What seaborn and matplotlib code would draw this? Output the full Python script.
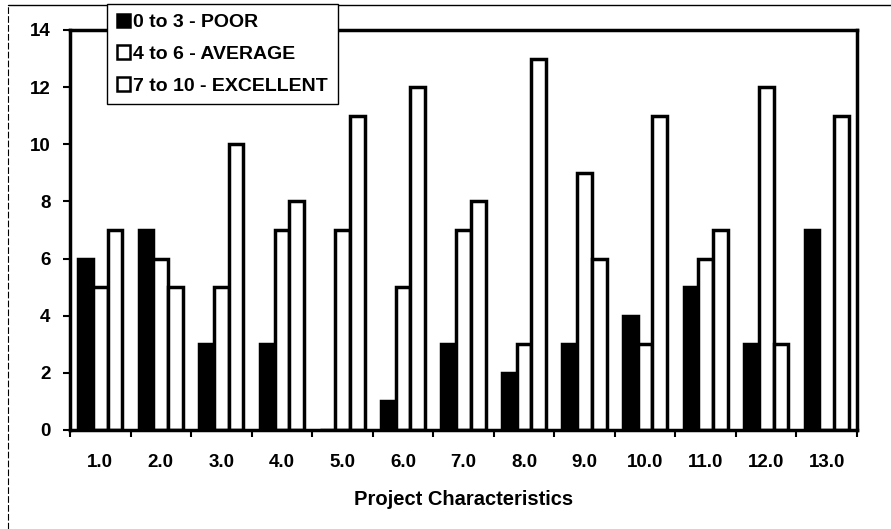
import matplotlib
matplotlib.use("Agg")
import matplotlib.pyplot as plt
import seaborn as sns
import pandas as pd
from matplotlib.patches import Patch
from matplotlib.lines import Line2D
from matplotlib.ticker import FixedLocator

# Ratings count per project characteristic
characteristics = ["1.0", "2.0", "3.0", "4.0", "5.0", "6.0", "7.0",
                   "8.0", "9.0", "10.0", "11.0", "12.0", "13.0"]
poor = [6, 7, 3, 3, 0, 1, 3, 2, 3, 4, 5, 3, 7]
average = [5, 6, 5, 7, 7, 5, 7, 3, 9, 3, 6, 12, 0]
excellent = [7, 5, 10, 8, 11, 12, 8, 13, 6, 11, 7, 3, 11]
series_labels = ["0 to 3 - POOR", "4 to 6 - AVERAGE", "7 to 10 - EXCELLENT"]
y_ticks = [0, 2, 4, 6, 8, 10, 12, 14]

df = pd.DataFrame({
    "Characteristic": characteristics * 3,
    "Rating": [series_labels[0]] * len(poor)
              + [series_labels[1]] * len(average)
              + [series_labels[2]] * len(excellent),
    "Count": poor + average + excellent,
})

sns.set_style("white")
plt.rcParams["font.family"] = ["Liberation Sans", "DejaVu Sans"]
plt.rcParams["font.weight"] = "bold"
plt.rcParams["text.color"] = "black"
plt.rcParams["axes.labelcolor"] = "black"
plt.rcParams["xtick.color"] = "black"
plt.rcParams["ytick.color"] = "black"

fig = plt.figure(figsize=(8.91, 5.29), dpi=100)
ax = fig.add_axes([70 / 891, 1 - 430 / 529, 787 / 891, 400 / 529])

palette = {series_labels[0]: "black", series_labels[1]: "white", series_labels[2]: "white"}
sns.barplot(data=df, x="Characteristic", y="Count", hue="Rating",
            order=characteristics, hue_order=series_labels, palette=palette,
            edgecolor="black", linewidth=2.5, width=0.73, saturation=1,
            legend=False, ax=ax)

ax.set_ylim(0, 14)
ax.set_yticks(y_ticks)
ax.set_xlim(-0.5, len(characteristics) - 0.5)
ax.set_ylabel("")
ax.set_xlabel("Project Characteristics", fontsize=14.5, fontweight="bold",
              color="black", labelpad=14)

for s in ax.spines.values():
    s.set_visible(True)
    s.set_color("black")
    s.set_linewidth(2.5)

# Category separators as outward ticks, labels centred between them
ax.xaxis.set_minor_locator(FixedLocator([i - 0.5 for i in range(len(characteristics) + 1)]))
ax.tick_params(axis="x", which="major", length=0, pad=17, labelsize=13.5, labelcolor="black")
ax.tick_params(axis="x", which="minor", length=5, width=1.5, direction="out", bottom=True,
               color="black")
ax.tick_params(axis="y", which="major", length=5, width=1.5, direction="out", left=True,
               pad=9, labelsize=13.5, color="black", labelcolor="black")
for lab in ax.get_xticklabels() + ax.get_yticklabels():
    lab.set_fontweight("bold")

handles = [Patch(facecolor="black", edgecolor="black", linewidth=1.8),
           Patch(facecolor="white", edgecolor="black", linewidth=1.8),
           Patch(facecolor="white", edgecolor="black", linewidth=1.8)]
leg = fig.legend(handles, series_labels, loc="upper left",
                 bbox_to_anchor=(107 / 891, 1 - 4 / 529), bbox_transform=fig.transFigure,
                 frameon=True, fancybox=False, edgecolor="black", framealpha=1,
                 prop={"weight": "bold", "size": 14}, handlelength=0.7, handleheight=0.7,
                 handletextpad=0.15, labelspacing=0.72, borderpad=0.5, borderaxespad=0)
leg.get_frame().set_linewidth(1.0)
for t in leg.get_texts():
    t.set_color("black")

# Thin outer chart-area border on top and left
fig.add_artist(Line2D([8 / 891, 1.0], [1 - 5 / 529, 1 - 5 / 529],
                      transform=fig.transFigure, color="black", linewidth=1.0))
fig.add_artist(Line2D([8 / 891, 8 / 891], [0.0, 1 - 5 / 529],
                      transform=fig.transFigure, color="black", linewidth=0.8,
                      linestyle=(0, (6, 2))))

fig.savefig("out.png", dpi=100)
